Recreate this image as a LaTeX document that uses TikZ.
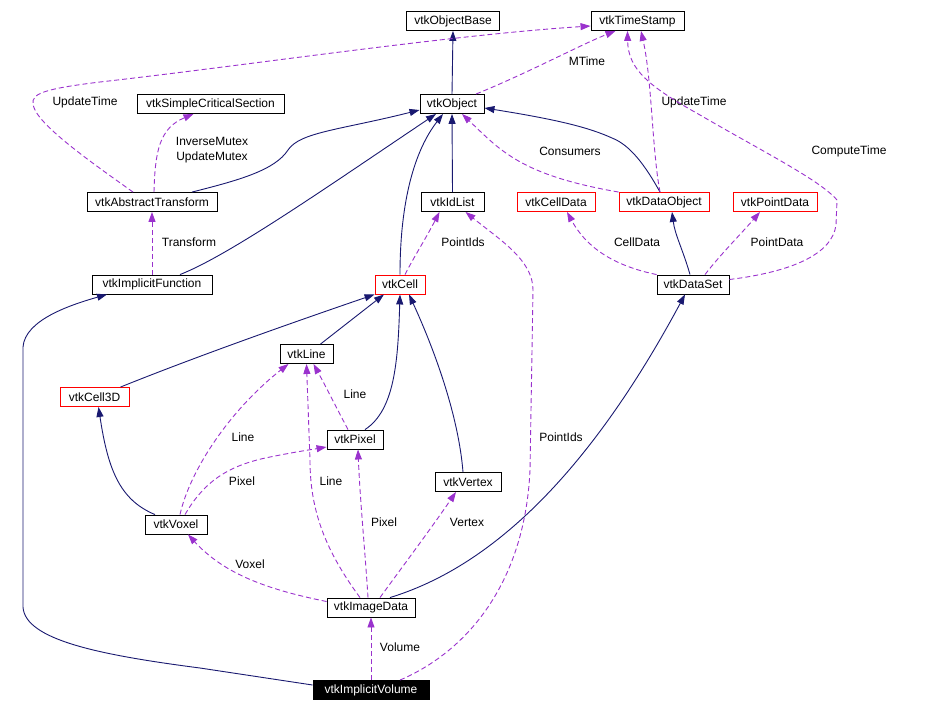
\documentclass[tikz,border=0pt]{standalone}
\usepackage{fontspec}
\setmainfont{Liberation Sans}
\usetikzlibrary{arrows.meta,calc}
\definecolor{inhcol}{HTML}{191970}
\definecolor{usecol}{HTML}{9A32CD}
\begin{document}
\begin{tikzpicture}[x=1pt,y=-1pt,
  cls/.style={draw=black, line width=0.9pt, minimum height=19pt, inner sep=0pt, font=\fontsize{12}{14}\selectfont, fill=white},
  redcls/.style={cls, draw=red},
  inh/.style={color=inhcol, line width=0.9pt, -{Triangle[length=10pt,width=7pt]}},
  use/.style={color=usecol, line width=0.9pt, dash pattern=on 5pt off 3pt, -{Triangle[length=10pt,width=7pt]}},
  lbl/.style={font=\fontsize{12}{14}\selectfont, inner sep=0pt, align=center}]
\useasboundingbox (0,0) rectangle (952,712);
% nodes
\node[cls, minimum width=93pt] (ObjectBase) at (453,21) {vtkObjectBase};
\node[cls, minimum width=93pt] (TimeStamp) at (637.5,21) {vtkTimeStamp};
\node[cls, minimum width=147pt] (SCS) at (210.5,104) {vtkSimpleCriticalSection};
\node[cls, minimum width=64pt] (Object) at (452,104) {vtkObject};
\node[cls, minimum width=130pt] (AT) at (152,202) {vtkAbstractTransform};
\node[cls, minimum width=63pt] (IdList) at (452.5,202) {vtkIdList};
\node[redcls, minimum width=78pt] (CellData) at (556,202) {vtkCellData};
\node[redcls, minimum width=90pt] (DataObject) at (664,202) {vtkDataObject};
\node[redcls, minimum width=84pt] (PointData) at (775,202) {vtkPointData};
\node[cls, minimum width=120pt] (IF) at (152,284.5) {vtkImplicitFunction};
\node[redcls, minimum width=50pt] (Cell) at (400,284.5) {vtkCell};
\node[cls, minimum width=72pt] (DataSet) at (693,284.5) {vtkDataSet};
\node[cls, minimum width=53pt] (Line) at (306.5,354) {vtkLine};
\node[redcls, minimum width=69pt] (Cell3D) at (94.5,397) {vtkCell3D};
\node[cls, minimum width=56pt] (Pixel) at (355,439.5) {vtkPixel};
\node[cls, minimum width=66pt] (Vertex) at (468,482) {vtkVertex};
\node[cls, minimum width=62pt] (Voxel) at (176,524.5) {vtkVoxel};
\node[cls, minimum width=88pt] (ImageData) at (371,607.5) {vtkImageData};
\node[cls, minimum width=116pt, fill=black, text=white] (IV) at (371,690) {vtkImplicitVolume};
% labels
\node[lbl] (lMTime) at (587,61) {MTime};
\node[lbl] (lUT1) at (85,102) {UpdateTime};
\node[lbl] (lMutex) at (212,150.5) {InverseMutex\\[1pt]UpdateMutex};
\node[lbl] (lTransform) at (189,242) {Transform};
\node[lbl] (lPointIds1) at (463,242) {PointIds};
\node[lbl] (lConsumers) at (570,151) {Consumers};
\node[lbl] (lUT2) at (694,102) {UpdateTime};
\node[lbl] (lCompute) at (849,151) {ComputeTime};
\node[lbl] (lCellData) at (637,242) {CellData};
\node[lbl] (lPointData) at (777,242) {PointData};
\node[lbl] (lLine1) at (355,394) {Line};
\node[lbl] (lLine2) at (243,437) {Line};
\node[lbl] (lPixel1) at (242,481) {Pixel};
\node[lbl] (lLine3) at (331,481) {Line};
\node[lbl] (lPixel2) at (384,522) {Pixel};
\node[lbl] (lVertex) at (467,522) {Vertex};
\node[lbl] (lVoxel) at (250,564) {Voxel};
\node[lbl] (lPointIds2) at (561,437) {PointIds};
\node[lbl] (lVolume) at (400,647) {Volume};
% inheritance edges
\draw[inh] (Object.north) -- (ObjectBase.south);
\draw[inh] (IdList.north) -- (Object.south);
\draw[inh] ($(AT.north)+(40,0)$) .. controls (240,180) and (275,170) .. (288,150) .. controls (300,132) and (340,130) .. ($(Object.west)+(0,6)$);
\draw[inh] ($(IF.north)+(28,0)$) .. controls (230,255) and (330,185) .. ($(Object.south)+(-16,0)$);
\draw[inh] (Cell.north) .. controls (400,200) and (415,150) .. ($(Object.south)+(-9,0)$);
\draw[inh] ($(DataObject.north)+(-4,0)$) .. controls (645,165) and (630,145) .. (612,138) .. controls (590,128) and (560,120) .. ($(Object.east)+(0,4)$);
\draw[inh] ($(DataSet.north)+(-3,0)$) .. controls (683,250) and (675,235) .. ($(DataObject.south)+(8,0)$);
\draw[inh] ($(Line.north)+(14,0)$) -- ($(Cell.south)+(-16,0)$);
\draw[inh] ($(Cell3D.north)+(26,0)$) .. controls (200,355) and (300,320) .. (Cell.south west);
\draw[inh] ($(Pixel.north)+(10,0)$) .. controls (395,410) and (398,360) .. (Cell.south);
\draw[inh] ($(Vertex.north)+(-5,0)$) .. controls (458,410) and (430,340) .. ($(Cell.south)+(9,0)$);
\draw[inh] ($(Voxel.north)+(-21,0)$) .. controls (120,500) and (108,470) .. ($(Cell3D.south)+(4,0)$);
\draw[inh] ($(ImageData.north)+(19,0)$) .. controls (480,570) and (580,490) .. ($(DataSet.south)+(-8,0)$);
\draw[inh] ($(IV.west)+(0,-5)$) -- (200,668) .. controls (100,655) and (25,640) .. (23,607) -- (23,347) .. controls (25,320) and (70,305) .. ($(IF.south)+(-45,0)$);
% usage edges
\draw[use] ($(Object.north)+(24,0)$) .. controls (530,72) and (580,45) .. ($(TimeStamp.south)+(-22,0)$);
\draw[use] ($(AT.north)+(-19,0)$) .. controls (95,165) and (45,130) .. (35,110) .. controls (28,95) and (35,90) .. (100,82) .. controls (250,65) and (450,35) .. ($(TimeStamp.west)+(0,5)$);
\draw[use] ($(AT.north)+(2,0)$) .. controls (155,150) and (160,128) .. ($(SCS.south)+(-17,0)$);
\draw[use] (IF.north) -- (AT.south);
\draw[use] ($(Cell.north)+(5,0)$) .. controls (415,255) and (425,240) .. ($(IdList.south)+(-13,0)$);
\draw[use] (DataObject.north west) .. controls (520,175) and (500,150) .. ($(Object.south)+(10,0)$);
\draw[use] ($(DataObject.north)+(-4,0)$) .. controls (652,150) and (652,80) .. ($(TimeStamp.south)+(3.5,0)$);
\draw[use] ($(DataSet.east)+(0,-5)$) .. controls (790,272) and (832,255) .. (836,225) -- (837,200) .. controls (820,180) and (760,150) .. (700,115) .. controls (650,87) and (628,70) .. ($(TimeStamp.south)+(-10,0)$);
\draw[use] (DataSet.north west) .. controls (610,265) and (585,245) .. ($(CellData.south)+(11,0)$);
\draw[use] ($(DataSet.north)+(12,0)$) .. controls (720,255) and (740,235) .. ($(PointData.south)+(-15,0)$);
\draw[use] ($(Pixel.north)+(-7,0)$) .. controls (335,405) and (325,385) .. ($(Line.south)+(7,0)$);
\draw[use] ($(Voxel.north)+(4,0)$) .. controls (190,470) and (230,410) .. ($(Line.south)+(-18,0)$);
\draw[use] ($(Voxel.north)+(9,0)$) .. controls (205,480) and (230,465) .. (270,457) .. controls (300,451) and (315,449) .. ($(Pixel.west)+(0,7.5)$);
\draw[use] ($(ImageData.west)+(0,-6)$) .. controls (270,590) and (225,575) .. ($(Voxel.south)+(12,0)$);
\draw[use] ($(ImageData.north)+(-11,0)$) .. controls (325,550) and (310,510) .. (310,460) -- (Line.south);
\draw[use] ($(ImageData.north)+(-3,0)$) .. controls (365,550) and (360,500) .. ($(Pixel.south)+(3,0)$);
\draw[use] ($(ImageData.north)+(9,0)$) .. controls (400,570) and (430,530) .. ($(Vertex.south)+(-12,0)$);
\draw[use] (IV.north) -- (ImageData.south);
\draw[use] ($(IV.north)+(29,0)$) .. controls (470,650) and (525,580) .. (530,470) -- (533,290) .. controls (533,260) and (500,240) .. ($(IdList.south)+(13,0)$);
\end{tikzpicture}
\end{document}
